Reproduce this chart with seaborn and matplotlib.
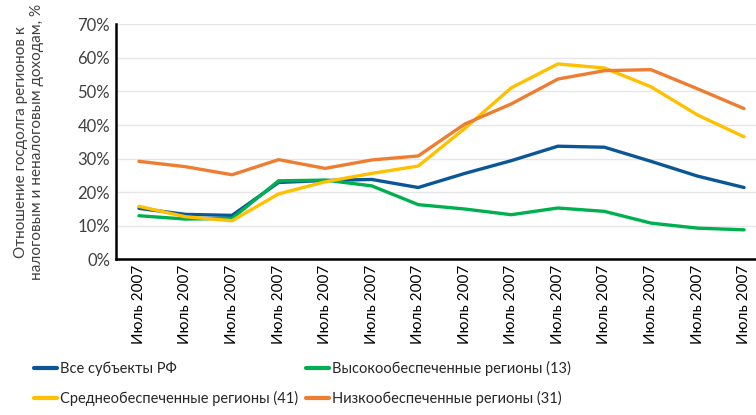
import pandas as pd
import numpy as np
import matplotlib.pyplot as plt
import seaborn as sns

periods = ["Июль 2007"] * 14
all_regions = [15.2, 13.4, 13.1, 22.9, 23.5, 23.8, 21.4, 25.6, 29.4, 33.7, 33.4, 29.2, 24.8, 21.4]
high = [13.0, 12.0, 12.2, 23.4, 23.6, 21.9, 16.3, 15.0, 13.3, 15.3, 14.3, 10.8, 9.3, 8.8]
mid = [15.8, 12.7, 11.5, 19.5, 23.1, 25.6, 27.8, 39.0, 51.1, 58.2, 57.0, 51.4, 43.0, 36.5]
low = [29.2, 27.6, 25.2, 29.7, 27.1, 29.6, 30.8, 40.3, 46.3, 53.7, 56.2, 56.5, 50.8, 44.9]

names = ["Все субъекты РФ", "Высокообеспеченные регионы (13)",
         "Среднеобеспеченные регионы (41)", "Низкообеспеченные регионы (31)"]
colors = ["#0A5696", "#00B050", "#FFC000", "#ED7D31"]

rows = []
for name, vals in zip(names, [all_regions, high, mid, low]):
    for i, v in enumerate(vals):
        rows.append({"idx": i, "value": v, "series": name})
df = pd.DataFrame(rows)

sns.set_style("white")
plt.rcParams["font.family"] = ["Lato", "DejaVu Sans"]

fig = plt.figure(figsize=(7.56, 4.15), dpi=100)
ax = fig.add_axes([0.153, 0.375, 0.862, 0.5664])

sns.lineplot(data=df, x="idx", y="value", hue="series", hue_order=names,
             palette=colors, linewidth=2.4, ax=ax, legend=False)

ax.set_xlim(-0.5, 13.5)
ax.set_ylim(0, 70)
ax.set_yticks(range(0, 71, 10))
ax.set_yticklabels([f"{t}%" for t in range(0, 71, 10)], fontsize=12, color="#404040")
ax.set_xticks(range(14))
ax.set_xticklabels(periods, rotation=90, fontsize=11, color="black")
ax.tick_params(axis="both", length=0, pad=4)
ax.grid(axis="y", color="#E6E6E6", linewidth=1)
ax.set_axisbelow(True)
ax.set_xlabel("")
ax.set_ylabel("Отношение госдолга регионов к\nналоговым и неналоговым доходам, %",
              fontsize=11, color="#404040", labelpad=24)

for s in ["top", "right"]:
    ax.spines[s].set_visible(False)
for s in ["left", "bottom"]:
    ax.spines[s].set_color("black")
    ax.spines[s].set_linewidth(1.8)

order = [0, 2, 1, 3]
handles = [plt.Line2D([], [], color=colors[i], linewidth=3) for i in order]
labels = [names[i] for i in order]
fig.legend(handles, labels, ncol=2, loc="upper left", bbox_to_anchor=(0.045, 0.13),
           frameon=False, fontsize=10.5, handlelength=1.6, handletextpad=0.2,
           columnspacing=0.5, labelspacing=1.0, borderaxespad=0, borderpad=0)

fig.savefig("out.png", dpi=100)
